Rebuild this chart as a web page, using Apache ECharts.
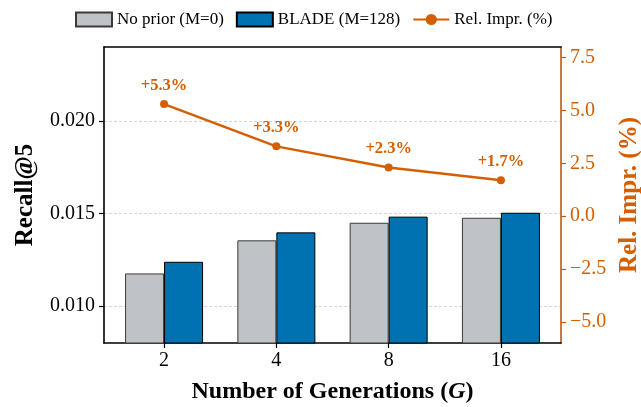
<!DOCTYPE html>
<html>
<head>
<meta charset="utf-8">
<script src="https://cdn.jsdelivr.net/npm/echarts@6/dist/echarts.min.js"></script>
<style>
html,body{margin:0;padding:0;background:#fff;}
#c{width:641px;height:407px;}
</style>
</head>
<body>
<div id="c"></div>
<script>
const categories = ['2', '4', '8', '16'];
const noPrior = [0.01176, 0.01355, 0.01450, 0.01477];
const blade = [0.01239, 0.01398, 0.01483, 0.01504];
const relImpr = [5.3, 3.3, 2.3, 1.7];
const leftTicks = [0.010, 0.015, 0.020];
const rightTicks = [-5.0, -2.5, 0.0, 2.5, 5.0, 7.5];

const FONT = 'Liberation Serif';
const ORANGE = '#D55E00';
const idx = categories.map((c, i) => i);

const chart = echarts.init(document.getElementById('c'));
chart.setOption({
  animation: false,
  textStyle: { fontFamily: FONT },
  legend: {
    top: 6,
    left: 70,
    itemWidth: 36,
    itemHeight: 14,
    itemGap: 12,
    textStyle: { fontFamily: FONT, fontSize: 17, color: '#000' },
    data: [
      { name: 'No prior (M=0)', icon: 'rect' },
      { name: 'BLADE (M=128)', icon: 'rect' },
      { name: 'Rel. Impr. (%)' }
    ]
  },
  grid: { left: 104, right: 80, top: 47, bottom: 64, outerBoundsMode: 'none', containLabel: false },
  xAxis: [{
    type: 'value',
    min: -0.535,
    max: 3.535,
    name: 'Number of Generations ({it|G})',
    nameLocation: 'middle',
    nameGap: 37,
    nameTextStyle: {
      fontFamily: FONT, fontSize: 24, fontWeight: 'bold', color: '#000',
      rich: { it: { fontFamily: FONT, fontSize: 24, fontWeight: 'bold', fontStyle: 'italic', color: '#000' } }
    },
    axisLine: { show: true, onZero: false, lineStyle: { color: '#000', width: 1.6 } },
    axisTick: { show: true, length: 5, customValues: idx, lineStyle: { color: '#000', width: 1.2 } },
    axisLabel: {
      customValues: idx, margin: 8, fontSize: 20, fontFamily: FONT, color: '#000',
      formatter: v => categories[Math.round(v)]
    },
    splitLine: { show: false }
  }, {
    type: 'value',
    position: 'top',
    min: -0.535,
    max: 3.535,
    axisLine: { show: true, onZero: false, lineStyle: { color: '#000', width: 1.6 } },
    axisTick: { show: false },
    axisLabel: { show: false },
    splitLine: { show: false }
  }],
  yAxis: [{
    type: 'value',
    min: 0.008,
    max: 0.024,
    name: 'Recall@5',
    nameLocation: 'middle',
    nameGap: 66,
    nameTextStyle: { fontFamily: FONT, fontSize: 25, fontWeight: 'bold', color: '#000' },
    axisLine: { show: true, onZero: false, lineStyle: { color: '#000', width: 1.6 } },
    axisTick: { show: true, length: 5, customValues: leftTicks, lineStyle: { color: '#000', width: 1.2 } },
    axisLabel: {
      customValues: leftTicks, margin: 9, fontSize: 20, fontFamily: FONT, color: '#000',
      formatter: v => v.toFixed(3)
    },
    splitLine: { show: true, lineStyle: { color: '#cccccc', type: [3, 2], width: 0.8 } }
  }, {
    type: 'value',
    position: 'right',
    min: -6,
    max: 8,
    name: 'Rel. Impr. (%)',
    nameLocation: 'middle',
    nameGap: 56,
    nameRotate: 90,
    nameTextStyle: { fontFamily: FONT, fontSize: 25, fontWeight: 'bold', color: ORANGE },
    axisLine: { show: true, onZero: false, lineStyle: { color: '#B85A16', width: 1.6 } },
    axisTick: { show: true, length: 5, customValues: rightTicks, lineStyle: { color: '#B85A16', width: 1.2 } },
    axisLabel: {
      customValues: rightTicks, margin: 9, fontSize: 20, fontFamily: FONT, color: ORANGE,
      formatter: v => (v < 0 ? '\u2212' + Math.abs(v).toFixed(1) : v.toFixed(1))
    },
    splitLine: { show: false }
  }],
  series: [{
    name: 'No prior (M=0)',
    type: 'bar',
    xAxisIndex: 0,
    yAxisIndex: 0,
    barWidth: 39,
    barGap: '0%',
    itemStyle: { color: '#BFC3C7', borderColor: '#3a3a3a', borderWidth: 1 },
    data: noPrior.map((v, i) => [i, v])
  }, {
    name: 'BLADE (M=128)',
    type: 'bar',
    xAxisIndex: 0,
    yAxisIndex: 0,
    barWidth: 39,
    barGap: '0%',
    itemStyle: { color: '#0072B2', borderColor: '#000', borderWidth: 1 },
    data: blade.map((v, i) => [i, v])
  }, {
    name: 'Rel. Impr. (%)',
    type: 'line',
    xAxisIndex: 0,
    yAxisIndex: 1,
    symbol: 'circle',
    symbolSize: 8,
    lineStyle: { color: ORANGE, width: 2.5 },
    itemStyle: { color: ORANGE },
    label: {
      show: true, position: 'top', distance: 6,
      fontFamily: FONT, fontSize: 16.5, fontWeight: 'bold', color: ORANGE,
      formatter: p => '+' + p.value[1].toFixed(1) + '%'
    },
    data: relImpr.map((v, i) => [i, v]),
    z: 5
  }]
});
</script>
</body>
</html>
